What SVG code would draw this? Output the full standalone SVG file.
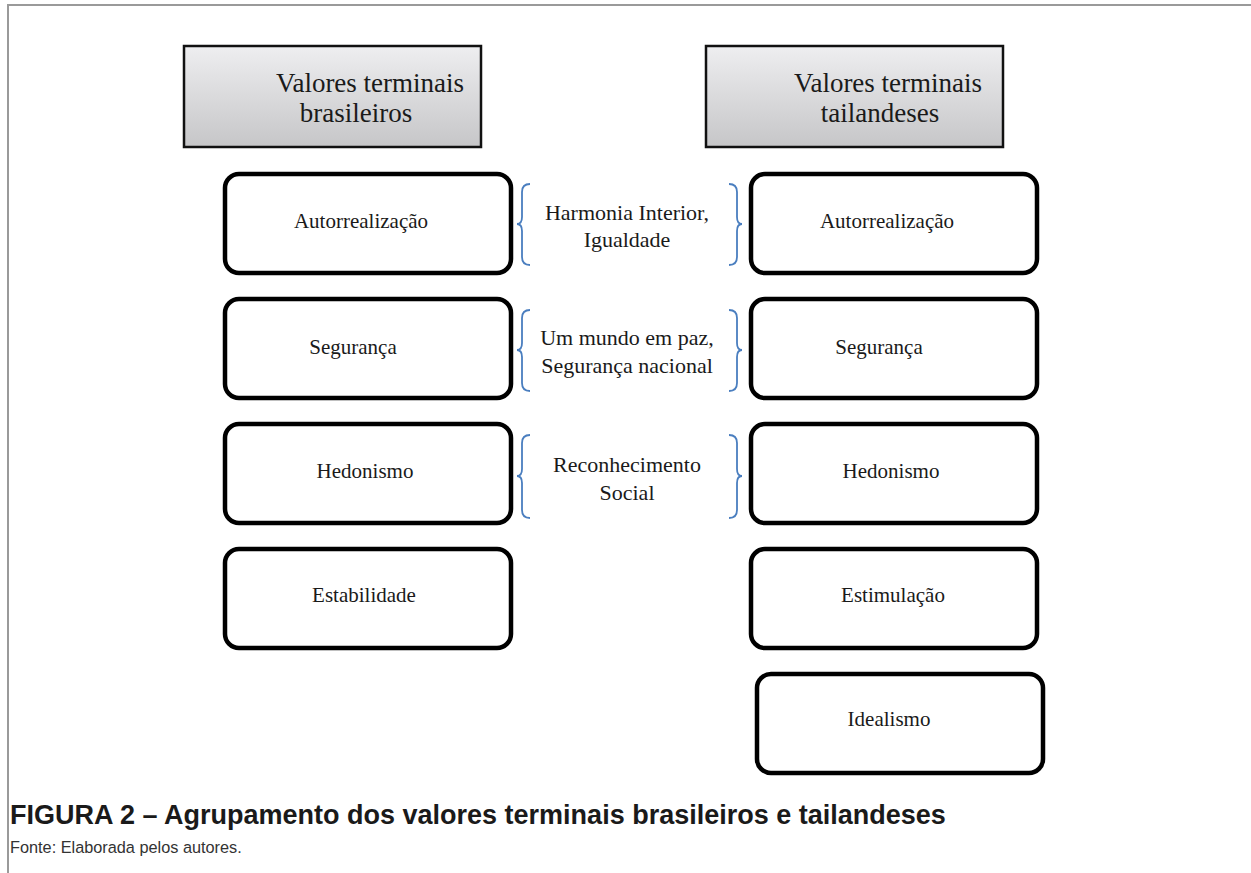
<svg xmlns="http://www.w3.org/2000/svg" width="1251" height="873" viewBox="0 0 1251 873">
<defs>
<linearGradient id="hg" x1="0" y1="0" x2="0" y2="1">
<stop offset="0" stop-color="#eeeef0"/>
<stop offset="1" stop-color="#c6c6c8"/>
</linearGradient>
</defs>
<style>
.hdr{fill:url(#hg);stroke:#111;stroke-width:2.5}
.box{fill:#fff;stroke:#000;stroke-width:4.5}
.ht{font-family:"Liberation Serif","Times New Roman",serif;font-size:27px;fill:#1a1a1a;text-anchor:middle}
.bt{font-family:"Liberation Serif","Times New Roman",serif;font-size:21px;fill:#1a1a1a;text-anchor:middle}
.mt{font-family:"Liberation Serif","Times New Roman",serif;font-size:22px;fill:#1a1a1a;text-anchor:middle}
.br{fill:none;stroke:#4a7ebf;stroke-width:1.8}
.cap{font-family:"Liberation Sans",Arial,sans-serif;font-size:27px;font-weight:bold;fill:#1a1a1a}
.src{font-family:"Liberation Sans",Arial,sans-serif;font-size:16.3px;fill:#333}
</style>
<rect width="1251" height="873" fill="#fff"/>
<path d="M8 873 V5 H1251" fill="none" stroke="#9a9a9a" stroke-width="2"/>
<g id="hdr-br">
<rect class="hdr" x="184" y="46" width="297" height="101"/>
<text class="ht" x="370" y="92">Valores terminais</text>
<text class="ht" x="356" y="122">brasileiros</text>
</g>
<g id="hdr-th">
<rect class="hdr" x="706" y="46" width="297" height="101"/>
<text class="ht" x="888" y="92">Valores terminais</text>
<text class="ht" x="880" y="122">tailandeses</text>
</g>
<g id="b-auto">
<rect class="box" x="225" y="174" width="286" height="99" rx="14"/>
<text class="bt" x="361" y="228">Autorrealização</text>
</g>
<g id="b-seg">
<rect class="box" x="225" y="299" width="286" height="99" rx="14"/>
<text class="bt" x="353" y="354">Segurança</text>
</g>
<g id="b-hed">
<rect class="box" x="225" y="424" width="286" height="99" rx="14"/>
<text class="bt" x="365" y="478">Hedonismo</text>
</g>
<g id="b-est">
<rect class="box" x="225" y="549" width="286" height="99" rx="14"/>
<text class="bt" x="364" y="602">Estabilidade</text>
</g>
<g id="t-auto">
<rect class="box" x="751" y="174" width="286" height="99" rx="14"/>
<text class="bt" x="887" y="228">Autorrealização</text>
</g>
<g id="t-seg">
<rect class="box" x="751" y="299" width="286" height="99" rx="14"/>
<text class="bt" x="879" y="354">Segurança</text>
</g>
<g id="t-hed">
<rect class="box" x="751" y="424" width="286" height="99" rx="14"/>
<text class="bt" x="891" y="478">Hedonismo</text>
</g>
<g id="t-est">
<rect class="box" x="751" y="549" width="286" height="99" rx="14"/>
<text class="bt" x="893" y="602">Estimulação</text>
</g>
<g id="t-ide">
<rect class="box" x="757" y="674" width="286" height="99" rx="14"/>
<text class="bt" x="889" y="726">Idealismo</text>
</g>
<g id="m1">
<text class="mt" x="627" y="220">Harmonia Interior,</text>
<text class="mt" x="627" y="247">Igualdade</text>
</g>
<g id="m2">
<text class="mt" x="627" y="345">Um mundo em paz,</text>
<text class="mt" x="627" y="373">Segurança nacional</text>
</g>
<g id="m3">
<text class="mt" x="627" y="472">Reconhecimento</text>
<text class="mt" x="627" y="500">Social</text>
</g>
<g id="connectors">
<path class="br" d="M530 184 Q522 184 522 192 V217 Q522 224 517 224 Q522 224 522 231 V257 Q522 265 530 265"/>
<path class="br" d="M729 184 Q737 184 737 192 V217 Q737 224 742 224 Q737 224 737 231 V257 Q737 265 729 265"/>
<path class="br" d="M530 310 Q522 310 522 318 V343 Q522 350 517 350 Q522 350 522 357 V383 Q522 391 530 391"/>
<path class="br" d="M729 310 Q737 310 737 318 V343 Q737 350 742 350 Q737 350 737 357 V383 Q737 391 729 391"/>
<path class="br" d="M530 435 Q522 435 522 443 V469 Q522 476 517 476 Q522 476 522 483 V510 Q522 518 530 518"/>
<path class="br" d="M729 435 Q737 435 737 443 V469 Q737 476 742 476 Q737 476 737 483 V510 Q737 518 729 518"/>
</g>
<text class="cap" x="10" y="824">FIGURA 2 – Agrupamento dos valores terminais brasileiros e tailandeses</text>
<text class="src" x="10" y="853">Fonte: Elaborada pelos autores.</text>
</svg>
